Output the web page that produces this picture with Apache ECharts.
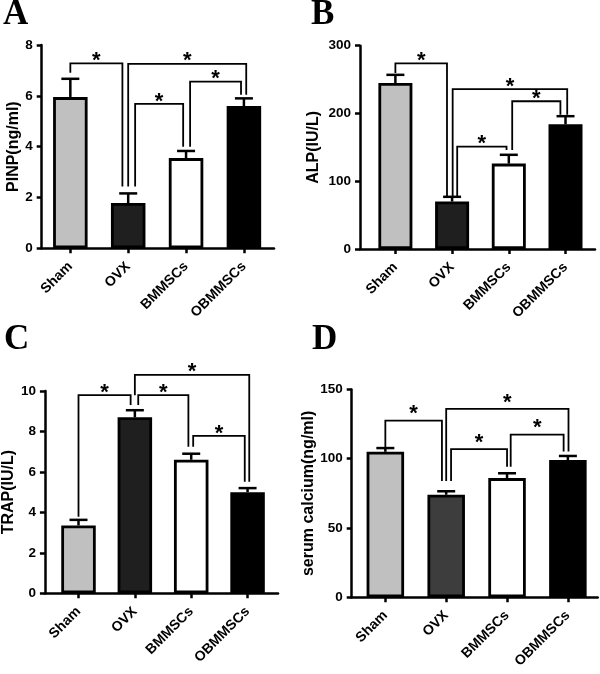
<!DOCTYPE html>
<html><head><meta charset="utf-8">
<script src="https://cdn.jsdelivr.net/npm/echarts@6/dist/echarts.min.js"></script>
<style>html,body{margin:0;padding:0;background:#fff;}#c{width:600px;height:674px;}</style>
</head><body><div id="c"></div>
<script>
// ---- data ----
const categories = ['Sham', 'OVX', 'BMMSCs', 'OBMMSCs'];

const pinpMean = [5.95, 1.78, 3.55, 5.6];
const pinpErr  = [0.72, 0.38, 0.28, 0.3];
const alpMean  = [245, 70, 126, 184];
const alpErr   = [12, 7, 13, 12];
const trapMean = [3.35, 8.7, 6.6, 5.0];
const trapErr  = [0.28, 0.35, 0.3, 0.2];
const calciumMean = [105, 74, 86, 99];
const calciumErr  = [2.7, 2.5, 3.5, 3.0];

// significance brackets: [xLeft, yLeftBottom, xRight, yRightBottom, yTop] (data units)
const pinpSig = [[0, 6.91, 0.90, 2.43, 7.28], [1.0, 2.43, 3.04, 6.04, 7.26], [1.12, 2.43, 1.95, 4.0, 5.68], [2.07, 4.0, 2.95, 6.04, 6.56]];
const alpSig  = [[0, 259.6, 0.91, 77, 274], [1.01, 77, 3.03, 198, 236], [1.09, 77, 1.96, 146, 151], [2.06, 146, 2.91, 198, 218]];
const trapSig = [[0, 3.79, 0.925, 9.31, 9.8], [1.06, 9.31, 1.95, 7.25, 9.8], [1.0, 9.79, 3.03, 5.52, 10.8], [2.035, 7.25, 2.95, 5.52, 7.78]];
const calciumSig = [[0, 108.5, 0.93, 84, 127.5], [1.0, 84, 3.01, 105.3, 136], [1.08, 84, 2.0, 94.2, 107], [2.06, 94.2, 2.93, 105.3, 117.4]];

const yNames = ['PINP(ng/ml)', 'ALP(IU/L)', 'TRAP(IU/L)', 'serum calcium(ng/ml)'];
const yMax = [8, 300, 10, 150];
const yStep = [2, 100, 2, 50];
const panelLetters = ['A', 'B', 'C', 'D'];

// ---- layout / style ----
const SANS = 'Liberation Sans';
const SERIF = 'Liberation Serif';
const panels = [
  {mean: pinpMean, err: pinpErr, sig: pinpSig, grid: {left: 41.7, top: 45, width: 232.3, height: 203.3}, xMin: -0.495, xMax: 3.52, barWidth: 34.5, nameGap: 20, ovx: '#1f1f1f', starGap: 7, letter: {left: 3, top: -3}},
  {mean: alpMean, err: alpErr, sig: alpSig, grid: {left: 360, top: 45.7, width: 235, height: 203.3}, xMin: -0.624, xMax: 3.52, barWidth: 34, nameGap: 38, ovx: '#1f1f1f', starGap: 7, letter: {left: 311, top: -3}},
  {mean: trapMean, err: trapErr, sig: trapSig, grid: {left: 44, top: 391, width: 234, height: 202.3}, xMin: -0.596, xMax: 3.54, barWidth: 34.5, nameGap: 21, ovx: '#1f1f1f', starGap: 7, letter: {left: 4, top: 322}},
  {mean: calciumMean, err: calciumErr, sig: calciumSig, grid: {left: 351.7, top: 389.5, width: 246, height: 207.7}, xMin: -0.553, xMax: 3.49, barWidth: 37.5, nameGap: 31, ovx: '#3d3d3d', starGap: 11, letter: {left: 312, top: 322}}
];

const chart = echarts.init(document.getElementById('c'), null, {renderer: 'canvas'});
const grids = [], xAxes = [], yAxes = [], series = [], titles = [];
const lineW = 2.5;

panels.forEach((p, i) => {
  grids.push(Object.assign({containLabel: false}, p.grid));
  titles.push({text: panelLetters[i], left: p.letter.left, top: p.letter.top, padding: 0,
    textStyle: {fontFamily: SERIF, fontWeight: 'bold', fontSize: 35, color: '#000'}});
  xAxes.push({
    type: 'value', gridIndex: i, min: p.xMin, max: p.xMax,
    axisLine: {show: true, onZero: false, lineStyle: {color: '#000', width: lineW}},
    axisTick: {show: true, customValues: [0, 1, 2, 3], length: 5, lineStyle: {color: '#000', width: lineW}},
    axisLabel: {customValues: [0, 1, 2, 3], formatter: v => categories[Math.round(v)], rotate: 45, margin: 16,
      fontFamily: SANS, fontWeight: 'bold', fontSize: 14, color: '#000'},
    splitLine: {show: false}
  });
  yAxes.push({
    type: 'value', gridIndex: i, min: 0, max: yMax[i], interval: yStep[i],
    name: yNames[i], nameLocation: 'middle', nameGap: p.nameGap,
    nameTextStyle: {fontFamily: SANS, fontWeight: 'bold', fontSize: 16, color: '#000'},
    axisLine: {show: true, onZero: false, lineStyle: {color: '#000', width: lineW}},
    axisTick: {show: true, length: 5, lineStyle: {color: '#000', width: lineW}},
    axisLabel: {fontFamily: SANS, fontWeight: 'bold', fontSize: 13.5, color: '#000', margin: 9},
    splitLine: {show: false}
  });
  const fills = ['#c0c0c0', p.ovx, '#ffffff', '#000000'];
  series.push({
    type: 'bar', xAxisIndex: i, yAxisIndex: i, barWidth: p.barWidth, silent: true,
    itemStyle: {borderColor: '#000', borderWidth: 2.8},
    data: p.mean.map((v, k) => ({value: [k, v], itemStyle: {color: fills[k]}}))
  });
  series.push({
    type: 'custom', xAxisIndex: i, yAxisIndex: i, silent: true, clip: false,
    encode: {x: 0, y: [1, 2]},
    data: p.mean.map((v, k) => [k, v, v + p.err[k]]),
    renderItem: (params, api) => {
      const a = api.coord([api.value(0), api.value(1)]);
      const b = api.coord([api.value(0), api.value(2)]);
      const st = {stroke: '#000', lineWidth: lineW, fill: null};
      return {type: 'group', children: [
        {type: 'line', shape: {x1: a[0], y1: a[1], x2: b[0], y2: b[1]}, style: st},
        {type: 'line', shape: {x1: b[0] - 9, y1: b[1], x2: b[0] + 9, y2: b[1]}, style: st}
      ]};
    }
  });
  series.push({
    type: 'custom', xAxisIndex: i, yAxisIndex: i, silent: true, clip: false,
    encode: {x: [0, 2], y: [1, 3, 4]},
    data: p.sig,
    renderItem: (params, api) => {
      const x1 = api.value(0), y1 = api.value(1), x2 = api.value(2), y2 = api.value(3), yt = api.value(4);
      const a = api.coord([x1, y1]), b = api.coord([x1, yt]), c = api.coord([x2, yt]), d = api.coord([x2, y2]);
      const fs = 22;
      return {type: 'group', children: [
        {type: 'polyline', shape: {points: [a, b, c, d]}, style: {stroke: '#000', lineWidth: 1.8, fill: null}},
        {type: 'text', x: (b[0] + c[0]) / 2, y: b[1] - p.starGap + 0.21 * fs,
          style: {text: '*', fontFamily: SANS, fontWeight: 'bold', fontSize: fs, fill: '#000', align: 'center', verticalAlign: 'middle'}}
      ]};
    }
  });
});

chart.setOption({
  animation: false,
  backgroundColor: '#fff',
  title: titles,
  grid: grids,
  xAxis: xAxes,
  yAxis: yAxes,
  series: series
});
</script>
</body></html>
